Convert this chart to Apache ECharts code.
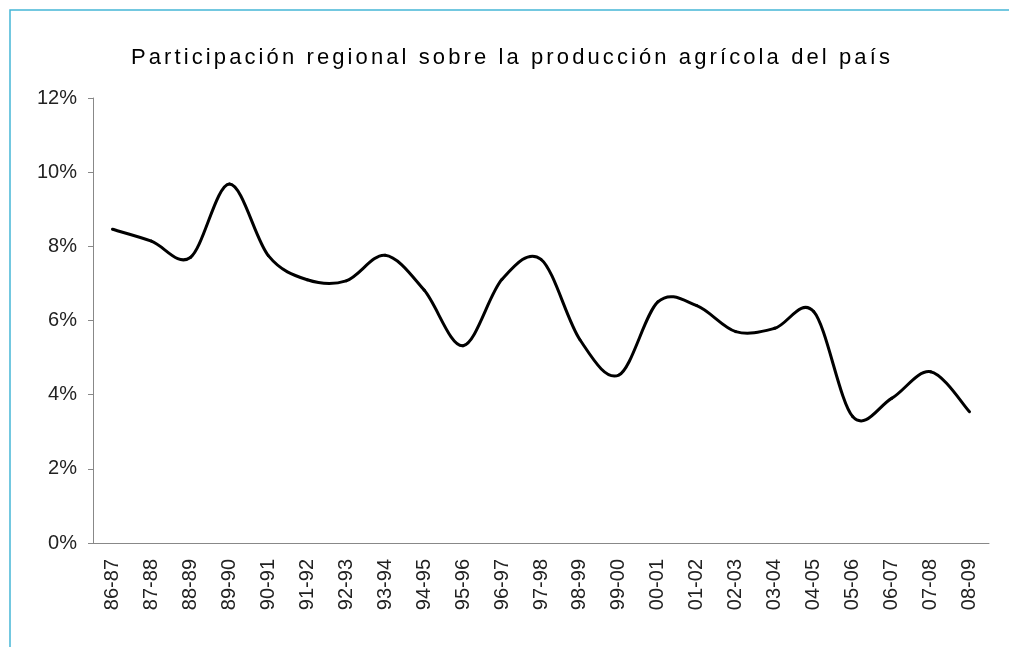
<!DOCTYPE html>
<html>
<head>
<meta charset="utf-8">
<script src="https://cdn.jsdelivr.net/npm/echarts@6/dist/echarts.min.js"></script>
<style>
  html, body { margin: 0; padding: 0; background: #fff; }
  #chart { width: 1009px; height: 647px; }
</style>
</head>
<body>
<div id="chart"></div>
<script>
// campañas agrícolas (eje X)
const campanas = ['86-87', '87-88', '88-89', '89-90', '90-91', '91-92', '92-93', '93-94',
  '94-95', '95-96', '96-97', '97-98', '98-99', '99-00', '00-01', '01-02', '02-03',
  '03-04', '04-05', '05-06', '06-07', '07-08', '08-09'];

// participación regional (%)
const participacion = [8.46, 8.14, 7.70, 9.68, 7.75, 7.10, 7.07, 7.76,
  6.82, 5.32, 7.11, 7.65, 5.48, 4.53, 6.50, 6.40, 5.70,
  5.79, 6.24, 3.41, 3.90, 4.62, 3.54];

const titulo = 'Participación regional sobre la producción agrícola del país';

const chart = echarts.init(document.getElementById('chart'));

// el título va en su propia capa (zlevel 1) para poder espaciar las letras
const capaTitulo = chart.getZr().painter.getLayer(1);
capaTitulo.ctx.letterSpacing = '3.1px';

/* suavizado tipo Excel (Catmull-Rom), un tramo por punto */
const punto = (api, k) => {
  const j = Math.max(0, Math.min(participacion.length - 1, k));
  return api.coord([j, participacion[j]]);
};
const renderTramo = (params, api) => {
  const i = params.dataIndex;
  if (i >= participacion.length - 1) return;
  const p0 = punto(api, i - 1);
  const p1 = punto(api, i);
  const p2 = punto(api, i + 1);
  const p3 = punto(api, i + 2);
  return {
    type: 'bezierCurve',
    shape: {
      x1: p1[0], y1: p1[1],
      x2: p2[0], y2: p2[1],
      cpx1: p1[0] + (p2[0] - p0[0]) / 6,
      cpy1: p1[1] + (p2[1] - p0[1]) / 6,
      cpx2: p2[0] - (p3[0] - p1[0]) / 6,
      cpy2: p2[1] - (p3[1] - p1[1]) / 6
    },
    style: { stroke: '#000', lineWidth: 3, fill: null, lineCap: 'round', lineJoin: 'round' }
  };
};

const option = {
  animation: false,
  backgroundColor: '#fff',
  title: {
    text: titulo,
    left: 512,
    textAlign: 'center',
    top: 47,
    padding: 0,
    zlevel: 1,
    textStyle: {
      fontFamily: 'Liberation Sans, Arial, sans-serif',
      fontSize: 22,
      fontWeight: 'normal',
      color: '#000'
    }
  },
  graphic: [{
    type: 'rect',
    shape: { x: 10, y: 10, width: 1200, height: 1000 },
    style: { fill: 'none', stroke: '#45b6d6', lineWidth: 1.5 },
    silent: true
  }],
  grid: { left: 93, right: 20, top: 98, bottom: 104, containLabel: false },
  xAxis: {
    type: 'category',
    data: campanas,
    boundaryGap: true,
    axisLine: { lineStyle: { color: '#888', width: 1 } },
    axisTick: { show: false },
    axisLabel: {
      rotate: 90,
      margin: 16,
      interval: 0,
      fontFamily: 'Liberation Sans, Arial, sans-serif',
      fontSize: 20,
      color: '#222'
    }
  },
  yAxis: {
    type: 'value',
    min: 0,
    max: 12,
    interval: 2,
    splitLine: { show: false },
    axisLine: { show: true, lineStyle: { color: '#888', width: 1 } },
    axisTick: { show: true, length: 5, lineStyle: { color: '#888' } },
    axisLabel: {
      formatter: '{value}%',
      margin: 16,
      fontFamily: 'Liberation Sans, Arial, sans-serif',
      fontSize: 20,
      color: '#222'
    }
  },
  series: [{
    type: 'custom',
    renderItem: renderTramo,
    data: participacion.map((v, i) => [i, v]),
    encode: { x: 0, y: 1 }
  }]
};

chart.setOption(option);
</script>
</body>
</html>
